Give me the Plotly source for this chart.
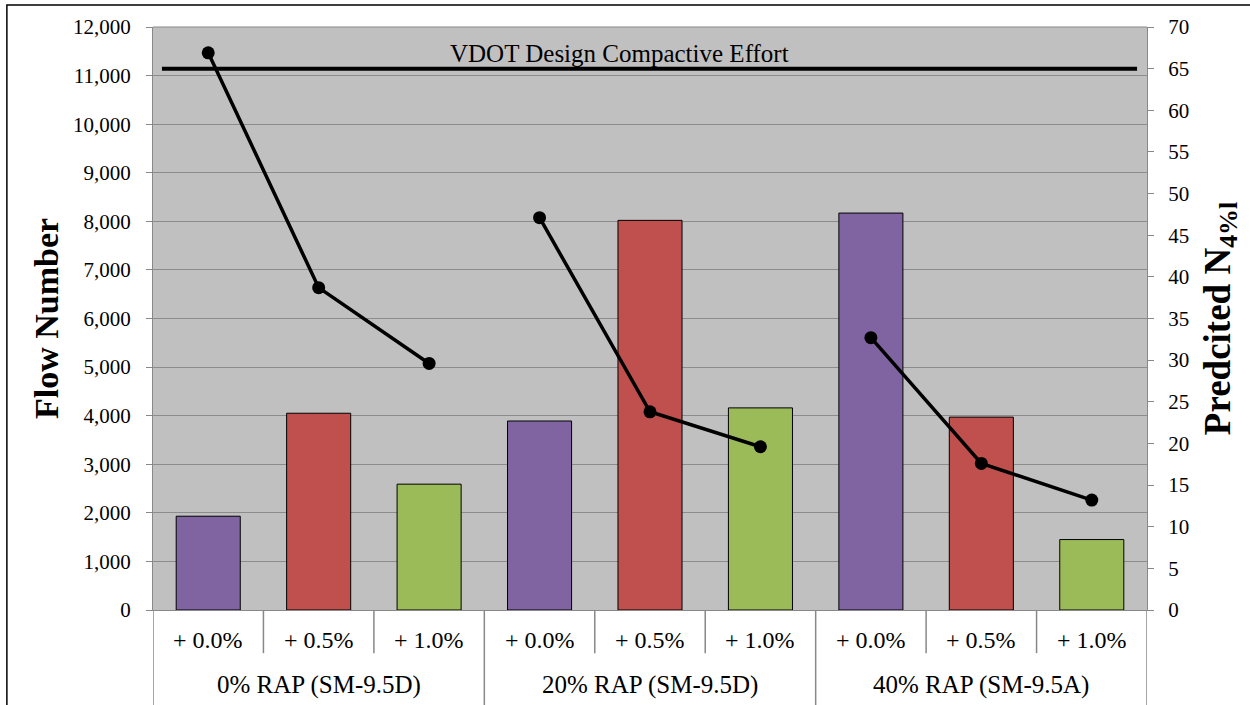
import plotly.graph_objects as go

groups = ["0% RAP (SM-9.5D)", "20% RAP (SM-9.5D)", "40% RAP (SM-9.5A)"]
subs = ["+ 0.0%", "+ 0.5%", "+ 1.0%"]
flow_number = [1930, 4050, 2590, 3890, 8020, 4160, 8170, 3970, 1450]
predicted_n = [66.9, 38.7, 29.6, 47.1, 23.8, 19.6, 32.7, 17.6, 13.2]
bar_colors = ["#8064A2", "#C0504D", "#9BBB59"] * 3
vdot_effort = 65

n_sub = len(subs)
xpos = list(range(len(groups) * n_sub))

fig = go.Figure()
fig.add_trace(go.Bar(x=xpos, y=flow_number,
                     marker=dict(color=bar_colors, line=dict(color="black", width=1)),
                     width=0.58, showlegend=False))

# line segments broken between groups
lx, ly = [], []
for gi in range(len(groups)):
    for si in range(n_sub):
        i = gi * n_sub + si
        lx.append(i); ly.append(predicted_n[i])
    if gi < len(groups) - 1:
        lx.append(gi * n_sub + n_sub - 0.5); ly.append(None)
fig.add_trace(go.Scatter(x=lx, y=ly, yaxis="y2", mode="lines+markers",
                         line=dict(color="black", width=3.5), marker=dict(color="black", size=13),
                         connectgaps=False, showlegend=False))

font = "Liberation Serif"
fig.update_layout(
    width=1250, height=705,
    margin=dict(l=153, r=103, t=27, b=95),
    paper_bgcolor="white", plot_bgcolor="#C0C0C0",
    font=dict(family=font, size=21, color="black"),
    xaxis=dict(range=[-0.5, len(xpos) - 0.5], showticklabels=False, showgrid=False, zeroline=False,
               showline=True, linecolor="#888888", linewidth=1, ticks=""),
    yaxis=dict(range=[0, 12000], dtick=1000, tickformat=",d", showgrid=True, gridcolor="#8C8C8C",
               showline=True, linecolor="#888888", ticks="outside", tickcolor="#888888", ticklen=6,
               ticklabelstandoff=11,
               tickfont=dict(size=21, family=font, color="black"), zeroline=False,
               title=dict(text="<b>Flow Number</b>", font=dict(size=34, family=font, color="black"), standoff=4)),
    yaxis2=dict(range=[0, 70], dtick=5, overlaying="y", side="right", showgrid=False,
                showline=True, linecolor="#888888", ticks="outside", tickcolor="#888888", ticklen=6,
                ticklabelstandoff=10,
                tickfont=dict(size=21, family=font, color="black"), zeroline=False,
                title=dict(text="<b>Predcited N<sub>4%l</sub></b>", font=dict(size=37, family=font, color="black"),
                           standoff=15)),
)

# category labels and dividers
for gi, g in enumerate(groups):
    for si, s in enumerate(subs):
        i = gi * n_sub + si
        fig.add_annotation(xref="x", yref="paper", x=i, y=-0.0515, text=s, showarrow=False,
                           yanchor="middle", font=dict(size=24, family=font, color="black"))
    fig.add_annotation(xref="x", yref="paper", x=gi * n_sub + (n_sub - 1) / 2, y=-0.1286, text=g,
                       showarrow=False, yanchor="middle", font=dict(size=25, family=font, color="black"))
for b in range(len(xpos) + 1):
    is_group = b % n_sub == 0
    fig.add_shape(type="line", xref="x", yref="paper", x0=b - 0.5, x1=b - 0.5, y0=0,
                  y1=-0.2 if is_group else -0.074, line=dict(color="#888888", width=1.5))

fig.add_shape(type="line", xref="x domain", yref="y2", x0=0.009, x1=0.99, y0=vdot_effort, y1=vdot_effort,
              line=dict(color="black", width=4))
fig.add_annotation(xref="x domain", yref="y2", x=0.469, y=vdot_effort, yanchor="bottom", showarrow=False,
                   text="VDOT Design Compactive Effort", font=dict(size=25, family=font, color="black"))
# plot top border
fig.add_shape(type="line", xref="paper", yref="paper", x0=0, x1=1, y0=1, y1=1, line=dict(color="#888888", width=1))
# outer chart border
fig.add_shape(type="rect", xref="paper", yref="paper", x0=-0.147, x1=1.3, y0=-0.5, y1=1.0377,
              line=dict(color="black", width=1.5), layer="above")

fig.write_html("out.html")
